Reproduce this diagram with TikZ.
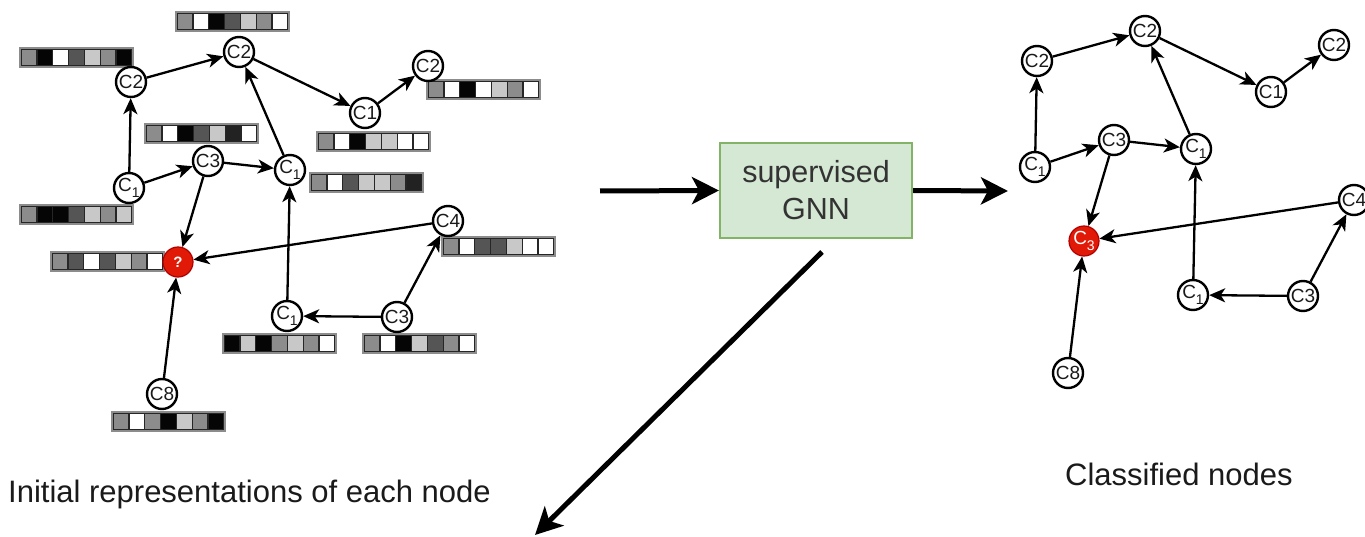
\documentclass[tikz,border=0pt]{standalone}
\usepackage{fontspec}
\setmainfont{Liberation Sans}
\usetikzlibrary{arrows.meta}

\definecolor{gA}{HTML}{FFFFFF}
\definecolor{gB}{HTML}{C8C8C8}
\definecolor{gC}{HTML}{8C8C8C}
\definecolor{gD}{HTML}{555555}
\definecolor{gE}{HTML}{222222}
\definecolor{gF}{HTML}{050505}
\definecolor{boxfill}{HTML}{D5E8D4}
\definecolor{boxline}{HTML}{82B366}
\definecolor{unkfill}{HTML}{E01A06}
\definecolor{unkline}{HTML}{B20000}
\definecolor{ink}{HTML}{1A1A1A}

% lowered index digit inside a node label
\newcommand{\lowsub}[1]{\raisebox{-0.32em}{\fontsize{14}{14}\selectfont #1}}

% a feature vector of seven shaded cells, top-left corner at (#1,#2)
\newcommand{\featbar}[3]{%
  \draw[draw=black!45, line width=2.2pt] (#1,#2) rectangle ++(113,19);
  \foreach \c [count=\i from 0] in {#3}{%
    \draw[fill=\c, draw=black!85, line width=1.3pt]
      ({#1+1.2+\i*15.8},{#2+1.2}) rectangle ++(15.8,16.6);
  }%
}

% the citation graph; #1 = name prefix, #2 = label of the red node
\newcommand{\gnngraph}[2]{%
  \node[gn] (#1c2a) at (131,82)  {C2};
  \node[gn] (#1c2b) at (239,52)  {C2};
  \node[gn] (#1c1a) at (365,113) {C1};
  \node[gn] (#1c2c) at (428,66)  {C2};
  \node[gn] (#1c1b) at (129,188) {C\lowsub{1}};
  \node[gn] (#1c3a) at (208,161) {C3};
  \node[gn] (#1c1c) at (290,170) {C\lowsub{1}};
  \node[unk] (#1q)  at (178,262) {#2};
  \node[gn] (#1c4)  at (448,221) {C4};
  \node[gn] (#1c1d) at (287,316) {C\lowsub{1}};
  \node[gn] (#1c3b) at (397,317) {C3};
  \node[gn] (#1c8)  at (162,394) {C8};
  \draw[edge] (#1c1b) -- (#1c2a);
  \draw[edge] (#1c2a) -- (#1c2b);
  \draw[edge] (#1c2b) -- (#1c1a);
  \draw[edge] (#1c1a) -- (#1c2c);
  \draw[edge] (#1c1b) -- (#1c3a);
  \draw[edge] (#1c3a) -- (#1c1c);
  \draw[edge] (#1c1c) -- (#1c2b);
  \draw[edge] (#1c3a) -- (#1q);
  \draw[edge] (#1c4)  -- (#1q);
  \draw[edge] (#1c1d) -- (#1c1c);
  \draw[edge] (#1c3b) -- (#1c1d);
  \draw[edge] (#1c3b) -- (#1c4);
  \draw[edge] (#1c8)  -- (#1q);
}

\begin{document}
\begin{tikzpicture}[x=1pt, y=-1pt,
  gn/.style={circle, draw=black, fill=white, line width=2.4pt, minimum size=30pt,
    inner sep=0pt, text=ink, font=\fontsize{19}{19}\selectfont},
  unk/.style={circle, draw=unkline, fill=unkfill, line width=1.2pt, minimum size=30pt,
    inner sep=0pt, text=white, font=\fontsize{19}{19}\selectfont},
  edge/.style={line width=2.3pt, -{Stealth[length=16pt, width=14pt, inset=4.5pt]}},
  bigarrow/.style={line width=5pt, -{Stealth[length=27pt, width=27pt, inset=7pt]}},
  modelbox/.style={draw=boxline, fill=boxfill, line width=2pt, minimum width=192pt,
    minimum height=95pt, align=center, text=black!80,
    font=\fontsize{30.5}{37}\selectfont},
  caption/.style={text=ink, inner sep=0pt, font=\fontsize{31}{32}\selectfont}]
\useasboundingbox (0,0) rectangle (1365,537);
\fill[white] (0,0) rectangle (1365,537);

% input features of every node
\featbar{20}{48}{gC,gF,gA,gD,gB,gC,gF}
\featbar{176}{12}{gC,gA,gF,gD,gB,gC,gA}
\featbar{145}{124}{gC,gA,gF,gD,gB,gE,gA}
\featbar{20}{205}{gC,gF,gF,gD,gB,gC,gB}
\featbar{427}{80}{gC,gA,gF,gA,gB,gC,gA}
\featbar{317}{132}{gC,gA,gF,gB,gB,gA,gA}
\featbar{310}{173}{gC,gA,gD,gB,gB,gC,gE}
\featbar{51}{252}{gC,gD,gA,gD,gB,gC,gA}
\featbar{442}{237}{gC,gA,gD,gD,gB,gA,gA}
\featbar{223}{334}{gF,gB,gF,gC,gB,gC,gA}
\featbar{363}{334}{gC,gA,gF,gB,gD,gC,gA}
\featbar{112}{412}{gC,gA,gC,gF,gB,gC,gF}

% input graph
\gnngraph{L}{\textbf{\fontsize{15}{15}\selectfont ?}}

% classified graph
\begin{scope}[shift={(906,-21)}]
  \gnngraph{R}{C\lowsub{3}}
\end{scope}

% model and data flow
\node[modelbox] (gnn) at (816,190.5) {supervised\\GNN};
\coordinate (inflow) at (600,191);
\coordinate (outflow) at (1008,191);
\coordinate (dtop) at (822,252);
\coordinate (dend) at (535,535);
\draw[bigarrow] (inflow) -- (gnn.west);
\draw[bigarrow] (gnn.east) -- (outflow);
\draw[bigarrow] (dtop) -- (dend);

\node[caption, anchor=base west] (capin) at (8,502) {Initial representations of each node};
\node[caption, anchor=base west] (capout) at (1065,485) {Classified nodes};
\end{tikzpicture}
\end{document}
